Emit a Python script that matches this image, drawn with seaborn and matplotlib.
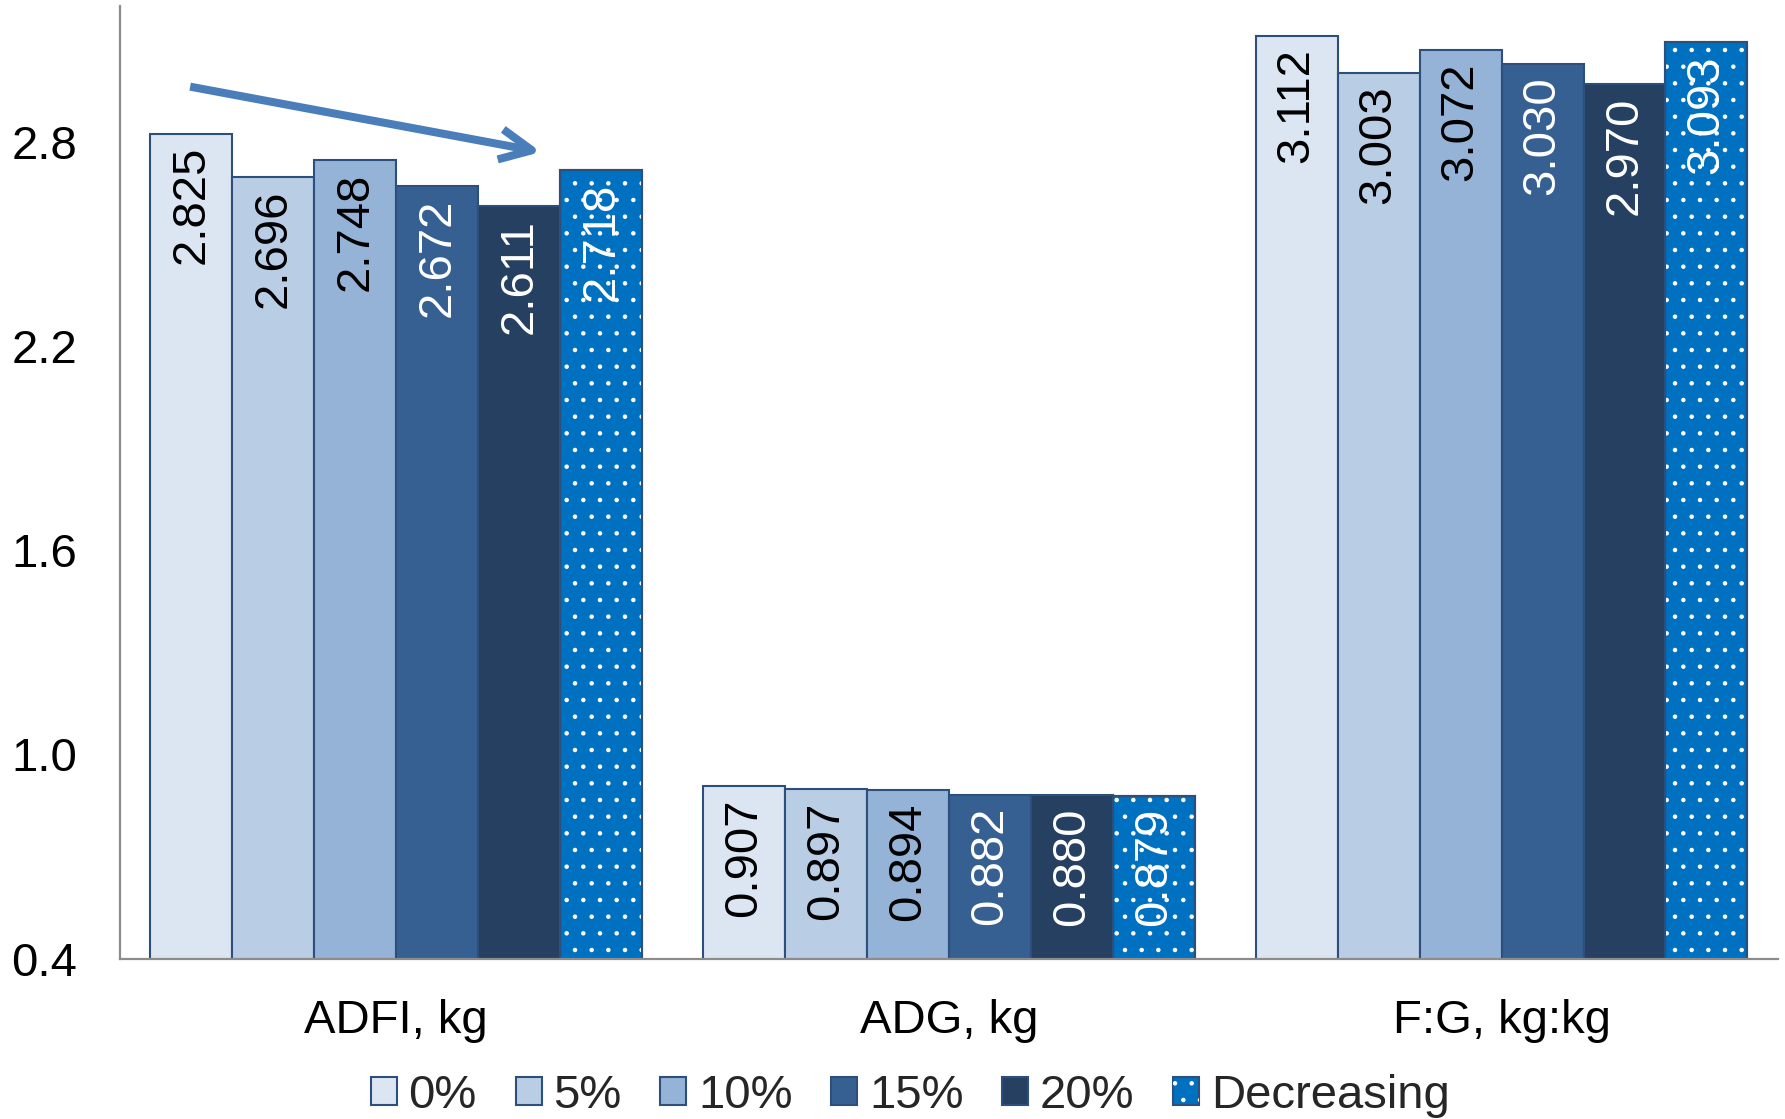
import matplotlib
matplotlib.use("Agg")
import matplotlib.pyplot as plt
from matplotlib.patches import Patch, Rectangle
import seaborn as sns
import pandas as pd

# Performance traits and dietary inclusion levels
metrics = ["ADFI, kg", "ADG, kg", "F:G, kg:kg"]
groups = ["0%", "5%", "10%", "15%", "20%", "Decreasing"]

adfi = [2.825, 2.696, 2.748, 2.672, 2.611, 2.718]
adg = [0.907, 0.897, 0.894, 0.882, 0.880, 0.879]
fg = [3.112, 3.003, 3.072, 3.030, 2.970, 3.093]

y_ticks = [0.4, 1.0, 1.6, 2.2, 2.8]

bar_colors = ["#DCE6F2", "#B9CDE5", "#95B3D7", "#376092", "#254061", "#0070C0"]
label_colors = ["black", "black", "black", "white", "white", "white"]
edge_color = "#2C4F7C"
arrow_color = "#4A7EBB"

rows = []
for metric, vals in zip(metrics, [adfi, adg, fg]):
    for g, v in zip(groups, vals):
        rows.append({"metric": metric, "group": g, "value": v})
df = pd.DataFrame(rows)

sns.set_theme(style="white")
plt.rcParams["font.family"] = ["Liberation Sans", "DejaVu Sans"]
plt.rcParams["hatch.color"] = "white"
plt.rcParams["hatch.linewidth"] = 0.8

fig = plt.figure(figsize=(17.85, 11.19), dpi=100)
ax = fig.add_axes([0.0672, 0.1434, 0.9288, 0.8512])

sns.barplot(
    data=df, x="metric", y="value", hue="group",
    order=metrics, hue_order=groups, palette=bar_colors,
    width=0.89, edgecolor=edge_color, linewidth=1.5,
    saturation=1, legend=False, ax=ax,
)

ax.set_xlim(-0.5, 2.5)
ax.set_ylim(0.4, 3.2)
ax.set_yticks(y_ticks)
ax.set_yticklabels([f"{t:.1f}" for t in y_ticks])
ax.set_xlabel("")
ax.set_ylabel("")

for side in ["top", "right"]:
    ax.spines[side].set_visible(False)
for side in ["left", "bottom"]:
    ax.spines[side].set_color("#8C8C8C")
    ax.spines[side].set_linewidth(1.6)

ax.tick_params(axis="y", length=0, pad=31, labelsize=34, labelcolor="black")
ax.tick_params(axis="x", length=0, pad=29, labelsize=34, labelcolor="black")

# Dotted fill for the decreasing-level bars
for bar in ax.containers[5]:
    ax.add_patch(Rectangle(
        (bar.get_x(), bar.get_y()), bar.get_width(), bar.get_height(),
        facecolor="none", edgecolor="white", hatch=".", linewidth=0, zorder=bar.get_zorder() + 0.1,
    ))
    ax.add_patch(Rectangle(
        (bar.get_x(), bar.get_y()), bar.get_width(), bar.get_height(),
        facecolor="none", edgecolor=edge_color, linewidth=1.5, zorder=bar.get_zorder() + 0.2,
    ))

# Value labels inside the top of each bar
for gi, container in enumerate(ax.containers[:6]):
    vals = [adfi[gi], adg[gi], fg[gi]]
    for bar, v in zip(container, vals):
        ax.annotate(
            f"{v:.3f}",
            xy=(bar.get_x() + bar.get_width() / 2, v),
            xytext=(0, -9), textcoords="offset points",
            rotation=90, ha="center", va="top",
            fontsize=34, color=label_colors[gi], zorder=5,
        )

# Trend arrow across the ADFI group
ax.annotate(
    "", xy=(0.262, 2.771), xytext=(-0.373, 2.963),
    arrowprops=dict(
        arrowstyle="->,head_length=2.3,head_width=1.1",
        mutation_scale=10, color=arrow_color, lw=5.8,
        shrinkA=0, shrinkB=0, capstyle="butt",
    ),
    zorder=6,
)

handles = []
for gi, g in enumerate(groups):
    base = Patch(facecolor=bar_colors[gi], edgecolor=edge_color, linewidth=1.5)
    if g == "Decreasing":
        dots = Patch(facecolor="none", edgecolor="white", hatch=".", linewidth=0)
        handles.append((base, dots))
    else:
        handles.append(base)

fig.legend(
    handles, groups, loc="center", bbox_to_anchor=(0.51, 0.021),
    ncol=6, frameon=False, fontsize=34,
    handlelength=0.55, handleheight=0.55, handletextpad=0.25,
    columnspacing=0.82, borderaxespad=0, borderpad=0,
)

fig.savefig("out.png", dpi=100)
